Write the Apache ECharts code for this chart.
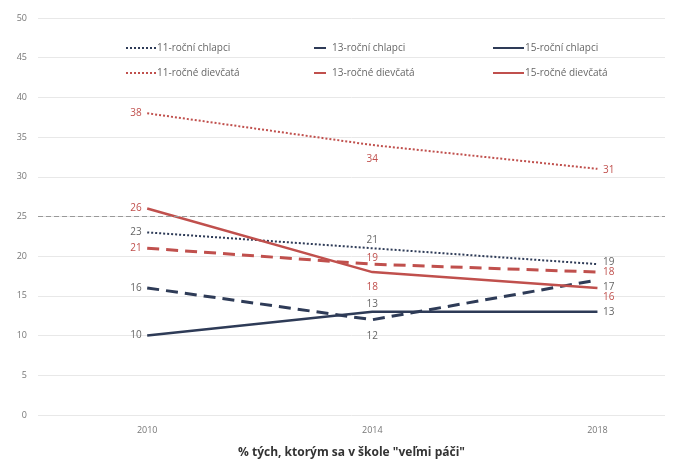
<!DOCTYPE html>
<html>
<head>
<meta charset="utf-8">
<script src="https://cdn.jsdelivr.net/npm/echarts@6/dist/echarts.min.js"></script>
<style>
  html, body { margin: 0; padding: 0; background: #fff; }
  #chart { width: 673px; height: 462px; }
</style>
</head>
<body>
<div id="chart"></div>
<script>
// Survey years on the horizontal axis
const years = [2010, 2014, 2018];

// Share of pupils who like school "a lot" (%)
const boys11 = [23, 21, 19];
const boys13 = [16, 12, 17];
const boys15 = [10, 13, 13];
const girls11 = [38, 34, 31];
const girls13 = [21, 19, 18];
const girls15 = [26, 18, 16];

const seriesNames = [
  '11-roční chlapci', '13-roční chlapci', '15-roční chlapci',
  '11-ročné dievčatá', '13-ročné dievčatá', '15-ročné dievčatá'
];
const yTicks = [0, 5, 10, 15, 20, 25, 30, 35, 40, 45, 50];
const referenceLevel = 25;

const NAVY = '#2e3b57';
const RED = '#c0504d';
const CLEAR = 'rgba(0,0,0,0)';

// value-label placement per year: [side, extra vertical shift in px]
const labelLayout = {
  boys11: [['left', 0], ['top', 2], ['right', -2]],
  boys13: [['left', 0], ['bottom', 6], ['right', 7]],
  boys15: [['left', 0], ['top', 3], ['right', 0]],
  girls11: [['left', 0], ['bottom', 4], ['right', 1]],
  girls13: [['left', 0], ['top', 5], ['right', 0]],
  girls15: [['left', 0], ['bottom', 5], ['right', 9]]
};

function points(values, layout) {
  return values.map((v, i) => ({
    value: [years[i], v],
    label: { position: layout[i][0], offset: [0, layout[i][1]] }
  }));
}

function lineSeries(name, values, layout, color, dash, width, labelColor) {
  return {
    name: name,
    type: 'line',
    data: points(values, layout),
    symbol: 'circle',
    symbolSize: 1,
    showSymbol: true,
    lineStyle: { color: color, width: width, type: dash, cap: 'butt' },
    itemStyle: { color: CLEAR, borderWidth: 0, borderColor: CLEAR },
    label: {
      show: true,
      color: labelColor,
      fontSize: 10,
      fontFamily: 'Open Sans',
      distance: 5,
      formatter: p => p.value[1]
    },
    z: 3
  };
}

const series = [
  lineSeries(seriesNames[0], boys11, labelLayout.boys11, NAVY, [2, 2], 2, '#666'),
  lineSeries(seriesNames[1], boys13, labelLayout.boys13, NAVY, [12, 7], 3, '#666'),
  lineSeries(seriesNames[2], boys15, labelLayout.boys15, NAVY, 'solid', 2.5, '#666'),
  lineSeries(seriesNames[3], girls11, labelLayout.girls11, RED, [2, 2], 2, RED),
  lineSeries(seriesNames[4], girls13, labelLayout.girls13, RED, [12, 7], 3, RED),
  lineSeries(seriesNames[5], girls15, labelLayout.girls15, RED, 'solid', 2.5, RED)
];

// dashed reference level across the plot
series[0].markLine = {
  silent: true,
  symbol: 'none',
  label: { show: false },
  lineStyle: { color: '#999', type: [5, 3], width: 1.2 },
  data: [{ yAxis: referenceLevel }]
};

// one legend block per entry, laid out as a 3 x 2 grid
const legendSpots = [
  { left: 120, top: 38 }, { left: 308, top: 38 }, { left: 487, top: 38 },
  { left: 120, top: 63 }, { left: 308, top: 63 }, { left: 487, top: 63 }
];
const legendIconWidth = [30, 17, 31, 30, 17, 31];
const legends = seriesNames.map((n, i) => ({
  data: [n],
  left: legendSpots[i].left,
  top: legendSpots[i].top,
  itemWidth: legendIconWidth[i],
  itemHeight: 10,
  itemGap: 0,
  selectedMode: false,
  textStyle: { color: '#666', fontSize: 10, fontFamily: 'Open Sans', padding: [0, 0, 0, -4] }
}));

const chart = echarts.init(document.getElementById('chart'), null, { renderer: 'canvas' });
chart.setOption({
  animation: false,
  backgroundColor: '#fff',
  legend: legends,
  grid: { left: 38, right: 8, top: 18, bottom: 47, containLabel: false, outerBoundsMode: 'none' },
  xAxis: {
    type: 'value',
    min: 2008.06,
    max: 2019.2,
    name: '% tých, ktorým sa v škole "veľmi páči"',
    nameLocation: 'middle',
    nameGap: 32,
    nameTextStyle: { color: '#333', fontSize: 12, fontWeight: 'bold', fontFamily: 'Open Sans' },
    axisLine: { show: false },
    axisTick: { show: false },
    splitLine: { show: false },
    axisLabel: {
      customValues: years,
      formatter: v => String(v),
      color: '#777',
      fontSize: 9,
      fontFamily: 'Open Sans',
      margin: 11
    }
  },
  yAxis: {
    type: 'value',
    min: 0,
    max: 50,
    interval: 5,
    axisLine: { show: false },
    axisTick: { show: false },
    splitLine: { lineStyle: { color: '#e8e8e8', width: 1 } },
    axisLabel: {
      customValues: yTicks,
      color: '#777',
      fontSize: 9,
      fontFamily: 'Open Sans',
      margin: 11
    }
  },
  series: series
});
</script>
</body>
</html>
